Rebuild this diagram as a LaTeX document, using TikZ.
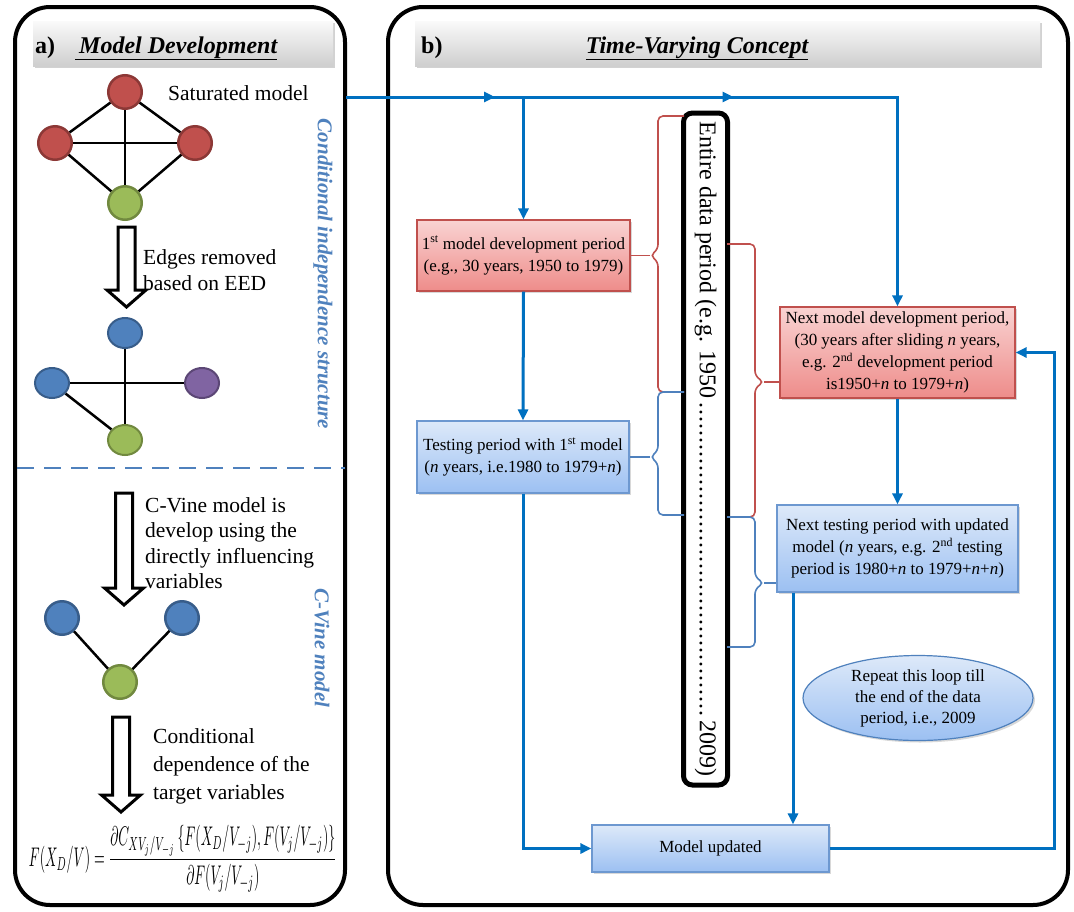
\documentclass[tikz,border=0pt]{standalone}
\usepackage{fontspec}
\setmainfont{Liberation Serif}
\usepackage{graphicx}
\usetikzlibrary{arrows.meta,shapes.geometric,shadows,decorations.markings}
\definecolor{flowblue}{HTML}{0070C0}
\definecolor{accblue}{HTML}{4F81BD}
\definecolor{bracered}{HTML}{C0504D}
\definecolor{bracebl}{HTML}{4F81BD}
\definecolor{redtop}{HTML}{F9D3D2}
\definecolor{redbot}{HTML}{EE8C8A}
\definecolor{redbd}{HTML}{C0504D}
\definecolor{bluetop}{HTML}{DDE9F9}
\definecolor{bluebot}{HTML}{9CC0F2}
\definecolor{bluebd}{HTML}{6D98D0}
\definecolor{nred}{HTML}{C0504D}
\definecolor{nredd}{HTML}{8C3836}
\definecolor{ngreen}{HTML}{9BBB59}
\definecolor{ngreend}{HTML}{71893F}
\definecolor{nblue}{HTML}{4F81BD}
\definecolor{nblued}{HTML}{385D8A}
\definecolor{npurple}{HTML}{8064A2}
\definecolor{npurpled}{HTML}{5C4776}
\newcommand{\hollowarr}[4]{%
  \draw[harrow] (#1-8.5,#2) -- (#1+8.5,#2) -- (#1+8.5,#3) -- (#1+19.5,#3) -- (#1,#4) -- (#1-19.5,#3) -- (#1-8.5,#3) -- cycle;}
\begin{document}
\begin{tikzpicture}[x=1pt,y=-1pt,
  panel/.style={draw=black, line width=4pt, rounded corners=35pt},
  hdr/.style={rectangle, top color=gray!4, bottom color=gray!38, draw=none,
    drop shadow={opacity=0.35, shadow xshift=1.5pt, shadow yshift=-2pt},
    minimum height=45pt, inner sep=0pt},
  ttl/.style={font=\fontsize{24}{28}\selectfont\bfseries\itshape, inner sep=0pt},
  ttlab/.style={font=\fontsize{24}{28}\selectfont\bfseries, inner sep=0pt},
  lbl/.style={font=\fontsize{21.5}{25}\selectfont, inner sep=0pt, align=left},
  vlab/.style={font=\fontsize{21}{24}\selectfont\bfseries\itshape, text=accblue, rotate=-90, inner sep=0pt},
  gnode/.style={circle, line width=2.5pt, minimum size=33.5pt, inner sep=0pt},
  enode/.style={ellipse, line width=2pt, minimum width=34pt, minimum height=30pt, inner sep=0pt},
  gedge/.style={line width=2.5pt, draw=black},
  harrow/.style={draw=black, fill=white, line width=3pt, line join=miter},
  boxtext/.style={align=center, font=\fontsize{17}{22}\selectfont, inner sep=2pt,
    drop shadow={opacity=0.3, shadow xshift=2pt, shadow yshift=-2pt}},
  redbox/.style={boxtext, rectangle, top color=redtop, bottom color=redbot, draw=redbd, line width=1.2pt},
  bluebox/.style={boxtext, rectangle, top color=bluetop, bottom color=bluebot, draw=bluebd, line width=1.2pt},
  flow/.style={draw=flowblue, color=flowblue, line width=3pt, -{Triangle[length=11pt,width=10pt]}},
  midarrow/.style={postaction={decorate, decoration={markings, mark=at position #1 with {\arrow{Triangle[length=11pt,width=10pt]}}}}},
  rbrace/.style={draw=bracered, line width=1.6pt, rounded corners=5pt},
  bbrace/.style={draw=bracebl, line width=1.6pt, rounded corners=5pt}
]
\useasboundingbox (0,0) rectangle (1074,911);
\fill[white] (0,0) rectangle (1074,911);

% ---------- panels ----------
\draw[panel] (15,7) rectangle (345,905);
\draw[panel] (388,7) rectangle (1068,905);

% ---------- headers ----------
\node[hdr, minimum width=300pt] (ha) at (183,43.5) {};
\node[ttlab, anchor=base west] (hat) at (35,53) {a)};
\node[ttl, anchor=base west] (hatt) at (75,53) {\underline{\,Model Development}};
\node[hdr, minimum width=625pt] (hb) at (727.5,43.5) {};
\node[ttlab, anchor=base west] (hbt) at (421,53) {b)};
\node[ttl, anchor=base] (hbtt) at (697,53) {\underline{Time-Varying Concept}};

% ---------- left panel: saturated graph ----------
\node[gnode, fill=nred, draw=nredd] (t1) at (125,92) {};
\node[gnode, fill=nred, draw=nredd] (l1) at (55,143) {};
\node[gnode, fill=nred, draw=nredd] (r1) at (195,143) {};
\node[gnode, fill=ngreen, draw=ngreend] (g1) at (125,203) {};
\draw[gedge] (t1) -- (l1);
\draw[gedge] (t1) -- (r1);
\draw[gedge] (t1) -- (g1);
\draw[gedge] (l1) -- (r1);
\draw[gedge] (l1) -- (g1);
\draw[gedge] (r1) -- (g1);
\node[lbl, anchor=base west] (sat) at (168,100) {Saturated model};

\hollowarr{126.5}{227}{290}{307}
\node[lbl, anchor=west] (edg) at (143,270) {Edges removed\\[1pt]based on EED};

% ---------- reduced graph ----------
\node[enode, fill=nblue, draw=nblued] (t2) at (125,333) {};
\node[enode, fill=nblue, draw=nblued] (l2) at (52,383) {};
\node[enode, fill=npurple, draw=npurpled] (p2) at (202,383) {};
\node[enode, fill=ngreen, draw=ngreend] (g2) at (125,440) {};
\draw[gedge] (t2) -- (g2);
\draw[gedge] (l2) -- (p2);
\draw[gedge] (l2) -- (g2);

\draw[accblue, line width=2.5pt, dash pattern=on 17pt off 10pt] (17,468) -- (345,468);

\node[vlab] (cis) at (323,274) {Conditional independence structure};
\node[vlab] (cvm) at (322,648) {C-Vine model};

% ---------- C-vine ----------
\hollowarr{124}{493}{588}{605}
\node[lbl, anchor=west] (cvt) at (145,543) {C-Vine model is\\[0.3pt]develop using the\\[0.3pt]directly influencing\\[0.3pt]variables};
\node[gnode, fill=nblue, draw=nblued] (l3) at (62,618) {};
\node[gnode, fill=nblue, draw=nblued] (r3) at (182,618) {};
\node[gnode, fill=ngreen, draw=ngreend] (g3) at (120,682) {};
\draw[gedge] (l3) -- (g3);
\draw[gedge] (r3) -- (g3);

\hollowarr{121}{717}{795}{812}
\node[lbl, anchor=west] (cdt) at (153,766) {Conditional\\[3pt]dependence of the\\[3pt]target variables};

\node[inner sep=0pt] (eq) at (183,859) {\resizebox{308pt}{41pt}{$F(X_D/V)=\displaystyle\frac{\partial C_{XV_j/V_{-j}}\left\{F(X_D/V_{-j}),F(V_j/V_{-j})\right\}}{\partial F(V_j/V_{-j})}$}};

% ---------- right panel ----------
\node[draw=black, line width=5pt, rounded corners=9pt, rotate=-90, minimum width=672pt, minimum height=44pt, inner sep=0pt, font=\fontsize{24}{28}\selectfont] (bar) at (705.5,449)
  {\makebox[655pt]{Entire data period (e.g. 1950\leaders\hbox to 7pt{\hss.\hss}\hfill2009)}};

\node[redbox, minimum width=213pt, minimum height=71pt] (b1) at (523.5,255.5)
  {1\textsuperscript{st} model development period\\(e.g., 30 years, 1950 to 1979)};
\node[bluebox, minimum width=212pt, minimum height=72pt] (b2) at (523,457)
  {Testing period with 1\textsuperscript{st} model\\(\textit{n} years, i.e.1980 to 1979+\textit{n})};
\node[redbox, minimum width=235pt, minimum height=91pt] (nm) at (897.5,352.5)
  {Next model development period,\\(30 years after sliding \textit{n} years,\\e.g. 2\textsuperscript{nd} development period\\is1950+\textit{n} to 1979+\textit{n})};
\node[bluebox, minimum width=241pt, minimum height=87pt] (nt) at (897.5,548.5)
  {Next testing period with updated\\model (\textit{n} years, e.g. 2\textsuperscript{nd} testing\\period is 1980+\textit{n} to 1979+\textit{n}+\textit{n})};
\node[bluebox, minimum width=237pt, minimum height=47pt] (upd) at (710.5,848.5) {Model updated};
\node[ellipse, top color=bluetop, bottom color=bluebot, draw=accblue, line width=1.2pt,
  minimum width=230pt, minimum height=85pt, inner sep=0pt, align=center,
  font=\fontsize{17}{21}\selectfont,
  drop shadow={opacity=0.3, shadow xshift=2pt, shadow yshift=-2pt}] (ell) at (918,698)
  {Repeat this loop till\\the end of the data\\period, i.e., 2009};

% braces
\coordinate (tA) at (650,255.5);
\coordinate (tB) at (650,457);
\coordinate (tC) at (764,382);
\coordinate (tD) at (764,583);
\draw[rbrace] (684,116) -- (658,116) -- (658,249.5) -- (tA) -- (658,261.5) -- (658,392) -- (684,392);
\draw[bbrace] (684,392) -- (658,392) -- (658,451) -- (tB) -- (658,463) -- (658,515) -- (684,515);
\draw[rbrace] (727,244) -- (755,244) -- (755,376) -- (tC) -- (755,388) -- (755,517) -- (727,517);
\draw[bbrace] (727,517) -- (755,517) -- (755,577) -- (tD) -- (755,589) -- (755,647) -- (727,647);
\draw[draw=bracered, line width=1.6pt] (tA) -- (b1.east);
\draw[draw=bracebl, line width=1.6pt] (tB) -- (b2.east);
\draw[draw=bracered, line width=1.6pt] (tC) -- (tC -| nm.west);
\draw[draw=bracebl, line width=1.6pt] (tD) -- (tD -| nt.west);

% flow connectors
\coordinate (s0) at (346,97);
\coordinate (ntx) at (793,0);
\coordinate (lp) at (1054,0);
\draw[flow, midarrow=149pt] (s0) -- (b1.north |- s0) -- (b1.north);
\draw[flow, midarrow=210pt] (b1.north |- s0) -- (nm.north |- s0) -- (nm.north);
\draw[flow] (b1.south) -- (b2.north);
\draw[flow] (nm.south) -- (nt.north);
\draw[flow] (b2.south) |- (upd.west);
\draw[flow] (nt.south -| ntx) -- (upd.north -| ntx);
\draw[flow] (upd.east) -| (lp |- nm.east) -- (nm.east);
\end{tikzpicture}
\end{document}
